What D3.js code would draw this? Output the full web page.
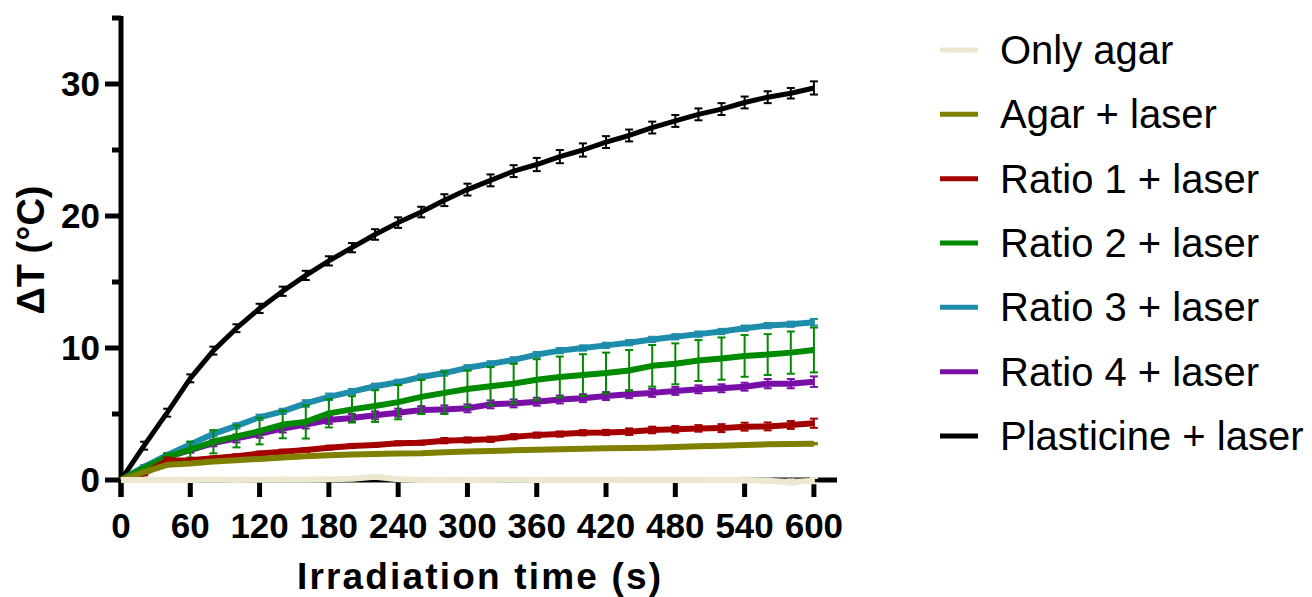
<!DOCTYPE html>
<html lang="en">
<head>
    <meta charset="UTF-8">
    <title>Photothermal heating</title>
    <script src="https://d3js.org/d3.v7.min.js"></script>
    <style>
        body { margin: 0; background: #fff; }
        svg { display: block; font-family: "Liberation Sans", Arial, sans-serif; }
        .tick-label { font-size: 35px; font-weight: bold; fill: #000; }
        .axis-title { font-size: 37px; font-weight: bold; fill: #000; }
        .legend-text { font-size: 40px; fill: #000; }
    </style>
</head>
<body>
    <svg id="chart" width="1312" height="597"></svg>

    <script>
        // irradiation time points (s)
        var times = [0, 20, 40, 60, 80, 100, 120, 140, 160, 180, 200, 220, 240, 260, 280, 300,
                     320, 340, 360, 380, 400, 420, 440, 460, 480, 500, 520, 540, 560, 580, 600];

        var names = ["Only agar", "Agar + laser", "Ratio 1 + laser", "Ratio 2 + laser",
                     "Ratio 3 + laser", "Ratio 4 + laser", "Plasticine + laser"];
        var colors = ["#ece7cf", "#808000", "#a50000", "#008a00", "#1e8dab", "#7a0fa8", "#000000"];

        // mean temperature rise (°C)
        var onlyAgar = [0, 0, 0.02, 0, 0.03, 0, 0.02, 0.04, 0.02, 0.05, 0.1, 0.25, 0.05, 0, 0, 0,
                        0, 0.02, 0, 0, 0, 0.02, 0, 0, 0, 0, 0, 0, -0.05, -0.15, -0.05];
        var agarLaser = [0, 0.6, 1.15, 1.25, 1.4, 1.5, 1.6, 1.7, 1.8, 1.88, 1.94, 1.97, 2.0, 2.03, 2.1, 2.15,
                         2.2, 2.25, 2.3, 2.33, 2.36, 2.4, 2.42, 2.45, 2.5, 2.55, 2.6, 2.65, 2.7, 2.72, 2.75];
        var ratio1 = [0, 0.5, 1.45, 1.5, 1.64, 1.8, 2.0, 2.15, 2.27, 2.45, 2.58, 2.65, 2.78, 2.83, 2.98, 3.03,
                      3.08, 3.28, 3.4, 3.48, 3.58, 3.6, 3.66, 3.79, 3.84, 3.91, 3.93, 4.04, 4.06, 4.17, 4.3];
        var ratio2 = [0, 0.9, 1.75, 2.3, 2.9, 3.3, 3.7, 4.2, 4.4, 5.05, 5.35, 5.6, 5.9, 6.3, 6.6, 6.9,
                      7.1, 7.3, 7.6, 7.8, 7.95, 8.1, 8.3, 8.65, 8.8, 9.05, 9.2, 9.4, 9.5, 9.65, 9.85];
        var ratio3 = [0, 1.0, 1.9, 2.7, 3.5, 4.1, 4.75, 5.2, 5.8, 6.3, 6.7, 7.1, 7.4, 7.8, 8.1, 8.5,
                      8.8, 9.1, 9.5, 9.8, 10.0, 10.2, 10.4, 10.65, 10.85, 11.05, 11.25, 11.5, 11.7, 11.8, 11.95];
        var ratio4 = [0, 1.0, 1.75, 2.27, 2.8, 3.15, 3.5, 3.9, 4.2, 4.55, 4.7, 4.9, 5.1, 5.3, 5.35, 5.43,
                      5.73, 5.8, 5.93, 6.1, 6.2, 6.36, 6.5, 6.6, 6.75, 6.87, 6.95, 7.07, 7.3, 7.3, 7.45];
        var plasticine = [0, 2.6, 5.1, 7.7, 9.8, 11.5, 13.0, 14.3, 15.5, 16.6, 17.6, 18.6, 19.5, 20.3, 21.2, 22.0,
                          22.7, 23.4, 23.9, 24.5, 25.0, 25.6, 26.1, 26.7, 27.2, 27.7, 28.1, 28.6, 29.0, 29.3, 29.7];

        // error bars (±, °C)
        var onlyAgarErr = [0, 0.05, 0.05, 0.05, 0.05, 0.05, 0.05, 0.05, 0.05, 0.05, 0.05, 0.1, 0.05, 0.05, 0.05, 0.05,
                           0.05, 0.05, 0.05, 0.1, 0.1, 0.1, 0.1, 0.1, 0.1, 0.15, 0.15, 0.2, 0.15, 0.2, 0.2];
        var agarLaserErr = [0, 0.05, 0.05, 0.05, 0.05, 0.05, 0.05, 0.05, 0.05, 0.05, 0.05, 0.05, 0.05, 0.05, 0.05, 0.05,
                            0.05, 0.05, 0.05, 0.05, 0.05, 0.05, 0.05, 0.05, 0.05, 0.05, 0.05, 0.05, 0.05, 0.05, 0.05];
        var ratio1Err = [0, 0.15, 0.25, 0.15, 0.15, 0.15, 0.15, 0.15, 0.15, 0.15, 0.15, 0.15, 0.15, 0.15, 0.2, 0.2,
                         0.2, 0.2, 0.2, 0.2, 0.2, 0.2, 0.25, 0.25, 0.25, 0.25, 0.3, 0.3, 0.3, 0.3, 0.35];
        var ratio2Err = [0, 0.1, 0.25, 0.6, 0.88, 0.83, 1.0, 1.04, 1.26, 1.07, 1.0, 1.2, 1.3, 1.3, 1.6, 1.4,
                         1.45, 1.5, 1.55, 1.55, 1.58, 1.55, 1.55, 1.58, 1.55, 1.55, 1.6, 1.58, 1.55, 1.6, 1.7];
        var ratio3Err = [0, 0.1, 0.15, 0.2, 0.2, 0.2, 0.2, 0.2, 0.25, 0.25, 0.2, 0.2, 0.2, 0.2, 0.2, 0.2,
                         0.2, 0.2, 0.2, 0.2, 0.2, 0.2, 0.2, 0.2, 0.2, 0.2, 0.2, 0.2, 0.2, 0.2, 0.25];
        var ratio4Err = [0, 0.1, 0.15, 0.2, 0.25, 0.3, 0.3, 0.3, 0.3, 0.3, 0.3, 0.3, 0.3, 0.3, 0.3, 0.3,
                         0.3, 0.3, 0.3, 0.3, 0.3, 0.3, 0.3, 0.3, 0.3, 0.3, 0.3, 0.3, 0.35, 0.35, 0.4];
        var plasticineErr = [0, 0.3, 0.3, 0.3, 0.3, 0.3, 0.35, 0.35, 0.35, 0.35, 0.35, 0.4, 0.4, 0.4, 0.45, 0.45,
                             0.45, 0.45, 0.5, 0.5, 0.5, 0.45, 0.45, 0.45, 0.45, 0.45, 0.45, 0.45, 0.45, 0.4, 0.5];

        var xTicks = [0, 60, 120, 180, 240, 300, 360, 420, 480, 540, 600];
        var yMajor = [0, 10, 20, 30];
        var yMinor = [5, 15, 25, 35];

        var allMeans = [onlyAgar, agarLaser, ratio1, ratio2, ratio3, ratio4, plasticine];
        var allErrs = [onlyAgarErr, agarLaserErr, ratio1Err, ratio2Err, ratio3Err, ratio4Err, plasticineErr];

        var series = names.map(function(n, i) {
            return {
                name: n,
                color: colors[i],
                width: i === 6 ? 5 : 6,
                points: times.map(function(t, j) { return { t: t, v: allMeans[i][j], e: allErrs[i][j] }; })
            };
        });

        var svg = d3.select("#chart");

        var x = d3.scaleLinear().domain([0, 620]).range([121, 837]);
        var y = d3.scaleLinear().domain([0, 35]).range([480, 18]);

        // axes (drawn first so the data sits on top)
        var axes = svg.append("g");

        axes.append("line")
            .attr("x1", x(0)).attr("x2", x(0))
            .attr("y1", y(0) + 17).attr("y2", y(35) - 2)
            .attr("stroke", "#000").attr("stroke-width", 5);
        axes.append("line")
            .attr("x1", x(0) - 2).attr("x2", x(620))
            .attr("y1", y(0)).attr("y2", y(0))
            .attr("stroke", "#000").attr("stroke-width", 5);

        axes.selectAll(".ymaj").data(yMajor).enter().append("line")
            .attr("x1", x(0) - 16).attr("x2", x(0))
            .attr("y1", d => y(d)).attr("y2", d => y(d))
            .attr("stroke", "#000").attr("stroke-width", 5);
        axes.selectAll(".ymin").data(yMinor).enter().append("line")
            .attr("x1", x(0) - 9).attr("x2", x(0))
            .attr("y1", d => y(d)).attr("y2", d => y(d))
            .attr("stroke", "#000").attr("stroke-width", 5);
        axes.selectAll(".ylab").data(yMajor).enter().append("text")
            .attr("class", "tick-label")
            .attr("x", 100).attr("y", d => y(d))
            .attr("dy", "0.35em")
            .attr("text-anchor", "end")
            .text(d => d);

        axes.selectAll(".xtick").data(xTicks).enter().append("line")
            .attr("x1", d => x(d)).attr("x2", d => x(d))
            .attr("y1", y(0)).attr("y2", y(0) + 17)
            .attr("stroke", "#000").attr("stroke-width", 5);
        axes.selectAll(".xlab").data(xTicks).enter().append("text")
            .attr("class", "tick-label")
            .attr("x", d => x(d)).attr("y", 538)
            .attr("text-anchor", "middle")
            .text(d => d);

        svg.append("text")
            .attr("class", "axis-title")
            .attr("x", (x(0) + x(620)) / 2).attr("y", 589)
            .attr("text-anchor", "middle")
            .attr("textLength", 364).attr("lengthAdjust", "spacing")
            .text("Irradiation time (s)");

        svg.append("text")
            .attr("class", "axis-title")
            .style("font-size", "38px")
            .attr("transform", "translate(44,250) rotate(-90)")
            .attr("text-anchor", "middle")
            .text("ΔT (°C)");

        // data: last series drawn first so "Only agar" ends on top
        var line = d3.line().x(d => x(d.t)).y(d => y(d.v));
        var plot = svg.append("g");

        series.slice().reverse().forEach(function(s) {
            var g = plot.append("g");
            g.append("path")
                .datum(s.points)
                .attr("d", line)
                .attr("fill", "none")
                .attr("stroke", s.color)
                .attr("stroke-width", s.width)
                .attr("stroke-linejoin", "round");

            var bars = g.selectAll(".err").data(s.points.filter(d => d.e > 0)).enter().append("g");
            bars.append("line")
                .attr("x1", d => x(d.t)).attr("x2", d => x(d.t))
                .attr("y1", d => y(d.v + d.e)).attr("y2", d => y(d.v - d.e))
                .attr("stroke", s.color).attr("stroke-width", 2);
            bars.append("line")
                .attr("x1", d => x(d.t) - 4).attr("x2", d => x(d.t) + 4)
                .attr("y1", d => y(d.v + d.e)).attr("y2", d => y(d.v + d.e))
                .attr("stroke", s.color).attr("stroke-width", 2);
            bars.append("line")
                .attr("x1", d => x(d.t) - 4).attr("x2", d => x(d.t) + 4)
                .attr("y1", d => y(d.v - d.e)).attr("y2", d => y(d.v - d.e))
                .attr("stroke", s.color).attr("stroke-width", 2);
        });

        // legend
        var legend = svg.append("g");
        var rowY = d3.scaleLinear().domain([0, 6]).range([50, 436]);
        var rows = legend.selectAll(".row").data(series).enter().append("g")
            .attr("transform", (d, i) => "translate(0," + rowY(i) + ")");
        rows.append("line")
            .attr("x1", 940).attr("x2", 978)
            .attr("y1", 0).attr("y2", 0)
            .attr("stroke", d => d.color).attr("stroke-width", 5);
        rows.append("text")
            .attr("class", "legend-text")
            .attr("x", 1000).attr("y", 0)
            .attr("dy", "0.35em")
            .text(d => d.name);
    </script>
</body>
</html>
